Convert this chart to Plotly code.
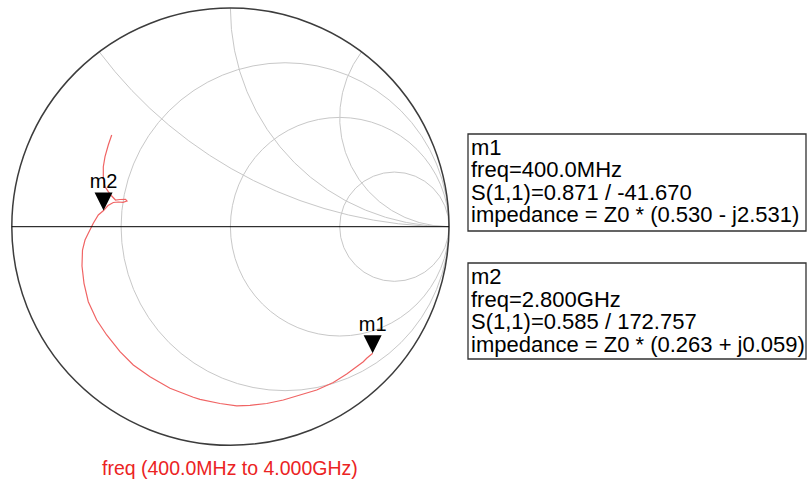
import numpy as np
import plotly.graph_objects as go

# ---- data (reflection coefficient, freq 400 MHz -> 4 GHz) ----
gamma_re = [0.651, 0.6235, 0.608, 0.532, 0.4707, 0.3948, 0.3184, 0.2420, 0.1661, 0.0897,
            0.0288, -0.0476, -0.1391, -0.1697, -0.2763, -0.3678, -0.4442, -0.5050, -0.5659, -0.6116,
            -0.6501, -0.6697, -0.6789, -0.6766, -0.6651, -0.6501, -0.6272, -0.6043, -0.5803, -0.5599,
            -0.5357, -0.5128, -0.4913, -0.4730, -0.4799, -0.5050, -0.5256, -0.5430, -0.5586, -0.5736,
            -0.5814, -0.5814, -0.5736, -0.5586, -0.5430]
gamma_im = [-0.579, -0.6020, -0.6176, -0.6738, -0.7127, -0.7470, -0.7699, -0.7928, -0.8088, -0.8170,
            -0.8193, -0.8088, -0.7896, -0.7804, -0.7392, -0.6862, -0.6327, -0.5718, -0.4954, -0.4268,
            -0.3431, -0.2589, -0.1798, -0.1066, -0.0608, -0.0302, 0.0156, 0.0535, 0.0738, 0.0970,
            0.1107, 0.1130, 0.1116, 0.1176, 0.1253, 0.1244, 0.1221, 0.1404, 0.1601, 0.1830,
            0.2214, 0.2745, 0.3202, 0.3737, 0.4195]

marker_names = ["m1", "m2"]
marker_mag = [0.871, 0.585]
marker_ang_deg = [-41.670, 172.757]
marker_freq = ["400.0MHz", "2.800GHz"]
marker_imp = ["(0.530 - j2.531)", "(0.263 + j0.059)"]

resistance_grid = [1 / 3, 1, 3]
reactance_grid = [0.5, 1, 2]
sweep_label = "freq (400.0MHz to 4.000GHz)"

# ---- conversions ----
g = np.array(gamma_re) + 1j * np.array(gamma_im)
z = (1 + g) / (1 - g)
gm = np.array(marker_mag) * np.exp(1j * np.deg2rad(marker_ang_deg))
zm = (1 + gm) / (1 - gm)

W, H = 812, 487
FONT = "Arial, Liberation Sans, sans-serif"

fig = go.Figure()
fig.add_trace(go.Scattersmith(real=z.real, imag=z.imag, mode="lines",
                              line=dict(color="rgb(240,100,100)", width=1.2),
                              showlegend=False, hoverinfo="skip"))
fig.add_trace(go.Scattersmith(real=zm.real, imag=zm.imag, mode="markers",
                              marker=dict(symbol="arrow-down", size=18, color="black",
                                          line=dict(width=0)),
                              showlegend=False, hoverinfo="skip"))
fig.add_trace(go.Scattersmith(real=zm.real, imag=zm.imag, mode="markers+text",
                              text=marker_names, textposition="top center",
                              textfont=dict(family=FONT, size=20, color="black"),
                              marker=dict(size=26, color="rgba(0,0,0,0)"),
                              showlegend=False, hoverinfo="skip"))

cx0, cx1 = 11.8 / W, 449.0 / W
cy0, cy1 = 1 - 445.3 / H, 1 - 8.1 / H

fig.update_layout(
    width=W, height=H, margin=dict(l=0, r=0, t=0, b=0),
    paper_bgcolor="white", plot_bgcolor="white",
    smith=dict(
        domain=dict(x=[cx0, cx1], y=[cy0, cy1]),
        bgcolor="white",
        realaxis=dict(tickvals=resistance_grid, showticklabels=False, ticks="",
                      gridcolor="rgb(200,200,200)", gridwidth=1,
                      showline=True, linecolor="black", linewidth=1),
        imaginaryaxis=dict(tickvals=reactance_grid, showticklabels=False, ticks="",
                           gridcolor="rgb(200,200,200)", gridwidth=1,
                           showline=True, linecolor="rgb(60,60,60)", linewidth=1.5),
    ),
)

# marker readout boxes
box_tops = [134, 263]
box_bottoms = [231, 359]
box_left, box_right = 468, 806
line_h = 22.5
annotations = []
shapes = []
for i in range(2):
    shapes.append(dict(type="rect", xref="paper", yref="paper",
                       x0=box_left / W, x1=box_right / W,
                       y0=1 - box_bottoms[i] / H, y1=1 - box_tops[i] / H,
                       line=dict(color="rgb(50,50,50)", width=1.3), fillcolor="rgba(0,0,0,0)"))
    lines = [marker_names[i],
             "freq=" + marker_freq[i],
             "S(1,1)=%.3f / %.3f" % (marker_mag[i], marker_ang_deg[i]),
             "impedance = Z0 * " + marker_imp[i]]
    for k, t in enumerate(lines):
        yc = box_tops[i] + 13.5 + k * line_h
        annotations.append(dict(text=t, xref="paper", yref="paper", x=469.0 / W, y=1 - yc / H,
                                xanchor="left", yanchor="middle", showarrow=False,
                                font=dict(family=FONT, size=22, color="black")))

annotations.append(dict(text=sweep_label, xref="paper", yref="paper", x=230 / W, y=1 - 468 / H,
                        xanchor="center", yanchor="middle", showarrow=False,
                        font=dict(family=FONT, size=19.5, color="rgb(235,35,35)")))

fig.update_layout(annotations=annotations, shapes=shapes)
fig.write_html("out.html", config={"displayModeBar": False},
               post_script="document.body.style.margin='0px';document.body.style.overflow='hidden';")
